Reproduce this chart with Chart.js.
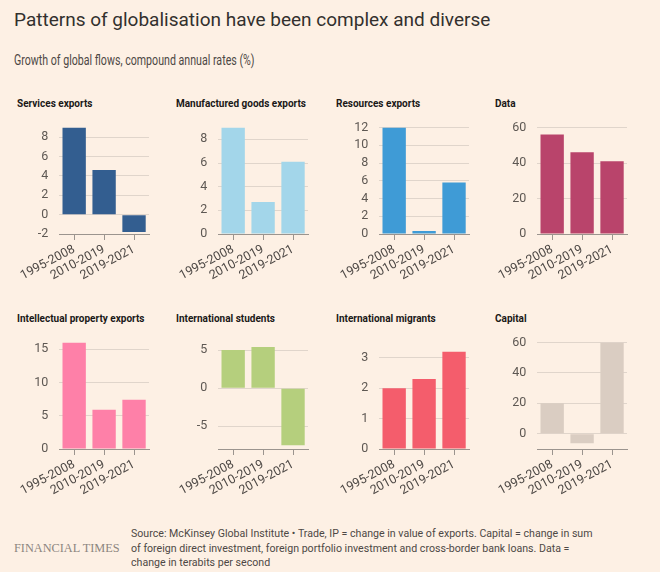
<!DOCTYPE html>
<html>
<head>
<meta charset="utf-8">
<script src="https://cdn.jsdelivr.net/npm/chart.js@4.4.1/dist/chart.umd.min.js"></script>
<style>
  html, body { margin: 0; padding: 0; }
  body { width: 660px; height: 572px; background: #fdf0e4; position: relative; overflow: hidden; font-family: Roboto, sans-serif; color: #33302e; }
  .txt { position: absolute; white-space: nowrap; }
  #title { left: 14px; top: 8px; font-size: 19px; color: #33302e; }
  #subtitle { left: 14px; top: 52px; font-size: 14px; color: #4d4845; transform: scaleX(0.76); transform-origin: 0 0; }
  .ptitle { position: absolute; font-size: 10px; font-weight: 700; color: #1a1817; white-space: nowrap; }
  canvas { position: absolute; }
  #ft { left: 14px; top: 541px; font-family: "Liberation Serif", serif; font-size: 12.3px; color: #8c857f; }
  #source { position: absolute; left: 131px; top: 527px; font-size: 11px; line-height: 14.5px; color: #4d4845; white-space: nowrap; transform: scaleX(0.965); transform-origin: 0 0; }
</style>
</head>
<body>
<div class="txt" id="title">Patterns of globalisation have been complex and diverse</div>
<div class="txt" id="subtitle">Growth of global flows, compound annual rates (%)</div>
<div class="txt" id="ft">FINANCIAL TIMES</div>
<div id="source">Source: McKinsey Global Institute • Trade, IP = change in value of exports. Capital = change in sum<br>of foreign direct investment, foreign portfolio investment and cross-border bank loans. Data =<br>change in terabits per second</div>

<script>
// periods shown under every panel
const periods = ['1995-2008', '2010-2019', '2019-2021'];

// values per panel
const servicesExports = [9.0, 4.6, -1.8];
const manufacturedExports = [9.0, 2.7, 6.1];
const resourcesExports = [12.0, 0.35, 5.8];
const dataFlows = [56, 46, 41];
const ipExports = [16.0, 5.9, 7.4];
const intlStudents = [5.0, 5.4, -7.5];
const intlMigrants = [2.0, 2.3, 3.2];
const capitalFlows = [20, -6.3, 60];

const panelTitles = ['Services exports', 'Manufactured goods exports', 'Resources exports', 'Data',
  'Intellectual property exports', 'International students', 'International migrants', 'Capital'];

// axis ranges: [min, max, step]
const axisRanges = [[-2, 9, 2], [0, 9, 2], [0, 12, 2], [0, 60, 20],
  [0, 16, 5], [-8, 6, 5], [0, 3.5, 1], [-10, 60, 20]];

const panelValues = [servicesExports, manufacturedExports, resourcesExports, dataFlows,
  ipExports, intlStudents, intlMigrants, capitalFlows];
const panelColours = ['#335e90', '#a3d6ea', '#3f9bd6', '#b9446b', '#fe80a8', '#b5cf7d', '#f45d6c', '#dacdc2'];

// layout of the grid of small charts
const colLeft = [57, 216, 377, 535];
const rowTop = [119, 334];
const titleLeft = [17, 176, 336, 495];
const titleTop = [98, 313];
const plotW = 92, plotH = 115;
const yAxisW = 45, xAxisH = 62, padTop = 10, padRight = 12;

panelTitles.forEach((t, i) => {
  const col = i % 4, row = Math.floor(i / 4);

  const d = document.createElement('div');
  d.className = 'ptitle';
  d.textContent = t;
  d.style.left = titleLeft[col] + 'px';
  d.style.top = titleTop[row] + 'px';
  document.body.appendChild(d);

  const canvas = document.createElement('canvas');
  canvas.width = yAxisW + plotW + padRight;
  canvas.height = padTop + plotH + xAxisH;
  canvas.style.left = (colLeft[col] - yAxisW) + 'px';
  canvas.style.top = (rowTop[row] - padTop) + 'px';
  document.body.appendChild(canvas);

  const [mn, mx, step] = axisRanges[i];
  new Chart(canvas.getContext('2d'), {
    type: 'bar',
    data: {
      labels: periods,
      datasets: [{
        data: panelValues[i],
        backgroundColor: panelColours[i],
        borderWidth: 0,
        categoryPercentage: 1,
        barPercentage: 0.78
      }]
    },
    options: {
      responsive: false,
      animation: false,
      events: [],
      layout: { padding: { top: padTop, right: padRight, left: 0, bottom: 0 } },
      plugins: { legend: { display: false }, tooltip: { enabled: false } },
      scales: {
        x: {
          afterFit: s => { s.height = xAxisH; },
          grid: { offset: false, drawOnChartArea: false, drawTicks: true, tickLength: 6, color: '#9b948e' },
          border: { display: true, color: '#9b948e', width: 1 },
          ticks: {
            autoSkip: false, minRotation: 28, maxRotation: 28, padding: 2,
            color: '#4d4845', font: { family: 'Roboto', size: 12.5 }
          }
        },
        y: {
          min: mn, max: mx,
          afterFit: s => { s.width = yAxisW; },
          grid: { drawTicks: false, color: '#e0d5cb' },
          border: { display: false },
          ticks: {
            autoSkip: false, stepSize: step, includeBounds: false, padding: 11,
            color: '#5e5853', font: { family: 'Roboto', size: 12.5 },
            callback: v => String(v)
          }
        }
      }
    }
  });
});
</script>
</body>
</html>
